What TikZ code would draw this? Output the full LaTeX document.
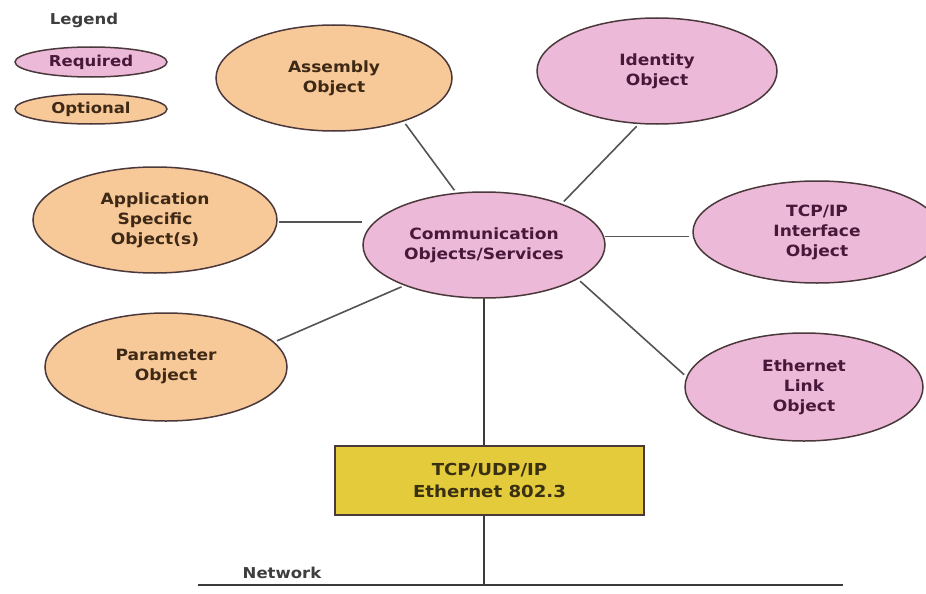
\documentclass[tikz,border=0pt]{standalone}
\usepackage{fontspec}
\setmainfont{DejaVu Sans}[FakeStretch=1.1]
\usetikzlibrary{shapes.geometric}

\definecolor{reqfill}{RGB}{236,186,216}
\definecolor{optfill}{RGB}{247,201,152}
\definecolor{stackfill}{RGB}{227,203,60}
\definecolor{rim}{RGB}{74,56,58}
\definecolor{reqtext}{RGB}{72,24,58}
\definecolor{opttext}{RGB}{62,40,22}
\definecolor{stacktext}{RGB}{58,48,18}
\definecolor{linkgray}{RGB}{84,84,84}
\definecolor{labelgray}{RGB}{62,62,62}

\tikzset{
  obj/.style={ellipse, draw=rim, line width=1.5pt, inner sep=0pt, align=center,
              font=\bfseries\fontsize{15.5}{20}\selectfont},
  required/.style={obj, fill=reqfill, text=reqtext},
  optional/.style={obj, fill=optfill, text=opttext},
  legendkey/.style={ellipse, draw=rim, line width=1.5pt, inner sep=0pt,
              minimum width=152pt, minimum height=30pt,
              font=\bfseries\fontsize{15}{16}\selectfont},
  stackbox/.style={rectangle, draw=rim, line width=1.5pt, fill=stackfill, text=stacktext,
              minimum width=309pt, minimum height=69pt, inner sep=0pt, align=center,
              font=\bfseries\fontsize{16.5}{22}\selectfont},
  link/.style={draw=linkgray, line width=1.6pt, shorten <=3pt, shorten >=3pt},
  wire/.style={draw=linkgray!70!black, line width=1.6pt},
  caption/.style={text=labelgray, font=\bfseries\fontsize{15}{16}\selectfont}
}

\begin{document}
\begin{tikzpicture}[x=1pt, y=-1pt]
  \useasboundingbox[fill=white] (0,0) rectangle (926,594);

  % legend
  \node[caption] (legendtitle) at (84,20) {Legend};
  \node[legendkey, fill=reqfill, text=reqtext] (keyreq) at (91,62) {Required};
  \node[legendkey, fill=optfill, text=opttext] (keyopt) at (91,109) {Optional};

  % object nodes
  \node[optional, minimum width=236pt, minimum height=106pt] (assembly) at (334,78) {Assembly\\Object};
  \node[required, minimum width=240pt, minimum height=106pt] (identity) at (657,71) {Identity\\Object};
  \node[optional, minimum width=244pt, minimum height=106pt] (appobj) at (155,220) {Application\\Specific\\Object(s)};
  \node[required, minimum width=242pt, minimum height=106pt] (comm) at (484,245) {Communication\\Objects/Services};
  \node[required, minimum width=248pt, minimum height=102pt] (tcpip) at (817,232) {TCP/IP\\Interface\\Object};
  \node[optional, minimum width=242pt, minimum height=108pt] (param) at (166,367) {Parameter\\Object};
  \node[required, minimum width=238pt, minimum height=108pt] (ethlink) at (804,387) {Ethernet\\Link\\Object};

  % protocol stack
  \node[stackbox] (stack) at (489.5,480.5) {TCP/UDP/IP\\Ethernet 802.3};

  % network bus
  \coordinate (netL) at (198,585);
  \coordinate (netR) at (843,585);
  \draw[wire] (netL) -- (netR);
  \node[caption, anchor=base] (netlabel) at (282,578) {Network};

  % connectors to the communication object
  \draw[link] (assembly.-32.8) -- (comm.118.9);
  \draw[link] (identity.-109.7) -- (comm.28);
  \draw[link, shorten <=1pt, shorten >=0pt] (appobj.-1) -- (comm.west |- appobj.-1);
  \draw[link, shorten <=1pt] (comm.4) -- (tcpip.west |- comm.4);
  \draw[link] (param.13.2) -- (comm.207.4);
  \draw[link] (comm.-20.4) -- (ethlink.175.3);

  % vertical path down to the network
  \draw[wire] (comm.south) -- (comm.south |- stack.north);
  \draw[wire] (comm.south |- stack.south) -- (comm.south |- netL);
\end{tikzpicture}
\end{document}
